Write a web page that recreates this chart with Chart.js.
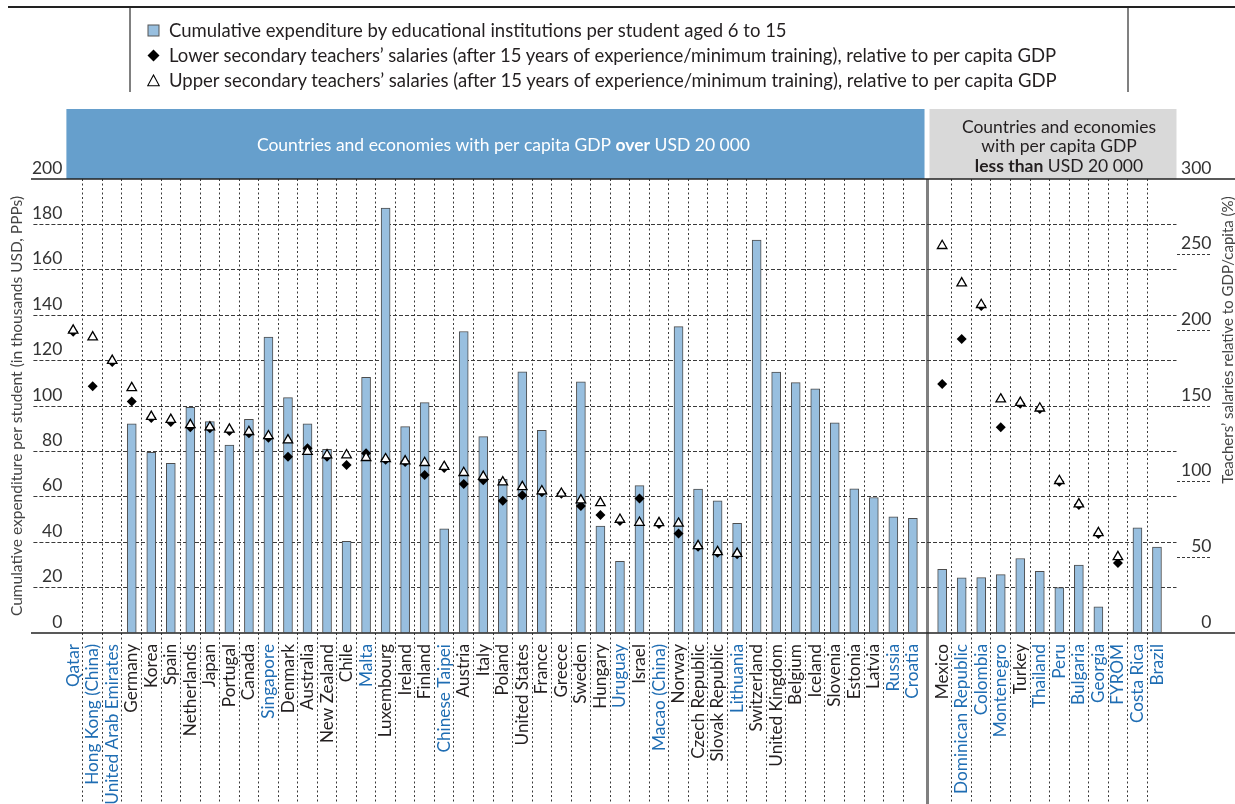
<!DOCTYPE html>
<html>
<head>
<meta charset="utf-8">
<script src="https://cdn.jsdelivr.net/npm/chart.js@4.4.1/dist/chart.umd.min.js"></script>
<style>
  body { margin: 0; background: #fff; font-family: Lato, sans-serif; }
  #wrap { position: relative; width: 1235px; height: 804px; overflow: hidden; }
  #chart { position: absolute; left: 0; top: 0; }
  #topline { position: absolute; left: 8px; right: 0; top: 6px; border-top: 2px solid #222; }
  #legend { position: absolute; left: 129px; top: 8px; width: 996px; height: 84px;
            border-left: 2px solid #808080; border-right: 2px solid #808080; }
  .item { position: absolute; left: 38px; height: 22px; line-height: 22px; font-size: 18.5px;
          color: #231f20; white-space: nowrap; }
  .item svg { position: absolute; left: -22px; top: 5px; }
</style>
</head>
<body>
<div id="wrap">
  <canvas id="chart" width="1235" height="804"></canvas>
  <div id="topline"></div>
  <div id="legend">
    <div class="item" style="top:11px">
      <svg width="13" height="13"><rect x="1" y="1" width="11" height="11" fill="#98bfdf" stroke="#555" stroke-width="1"/></svg>
      Cumulative expenditure by educational institutions per student aged 6 to 15
    </div>
    <div class="item" style="top:36px">
      <svg width="13" height="13"><path d="M6.5 0.5 L12.5 6.5 L6.5 12.5 L0.5 6.5 Z" fill="#000"/></svg>
      Lower secondary teachers’ salaries (after 15 years of experience/minimum training), relative to per capita GDP
    </div>
    <div class="item" style="top:61px">
      <svg width="13" height="13"><path d="M6.5 1 L12.3 11.8 L0.7 11.8 Z" fill="#fff" stroke="#000" stroke-width="1.1"/></svg>
      Upper secondary teachers’ salaries (after 15 years of experience/minimum training), relative to per capita GDP
    </div>
  </div>
</div>
<script>
const countries = [
  "Qatar", "Hong Kong (China)", "United Arab Emirates", "Germany", "Korea", "Spain",
  "Netherlands", "Japan", "Portugal", "Canada", "Singapore", "Denmark", "Australia",
  "New Zealand", "Chile", "Malta", "Luxembourg", "Ireland", "Finland", "Chinese Taipei",
  "Austria", "Italy", "Poland", "United States", "France", "Greece", "Sweden", "Hungary",
  "Uruguay", "Israel", "Macao (China)", "Norway", "Czech Republic", "Slovak Republic",
  "Lithuania", "Switzerland", "United Kingdom", "Belgium", "Iceland", "Slovenia", "Estonia",
  "Latvia", "Russia", "Croatia",
  "Mexico", "Dominican Republic", "Colombia", "Montenegro", "Turkey", "Thailand", "Peru",
  "Bulgaria", "Georgia", "FYROM", "Costa Rica", "Brazil",
];

// countries with per capita GDP over USD 20 000 come first
const richCount = 44;

const partners = [
  "Qatar", "Hong Kong (China)", "United Arab Emirates", "Singapore", "Malta", "Chinese Taipei",
  "Uruguay", "Macao (China)", "Lithuania", "Russia", "Croatia", "Dominican Republic", "Colombia",
  "Montenegro", "Thailand", "Peru", "Bulgaria", "Georgia", "FYROM", "Costa Rica", "Brazil",
];

// thousands USD, PPPs
const expenditure = [
  null, null, null, 92.1, 79.6, 74.7, 99.4, 93.1, 82.8, 94.1, 130.4, 103.7, 92.1,
  80.9, 40.4, 112.6, 187.2, 90.9, 101.5, 45.9, 132.8, 86.5, 67.7, 115.1, 89.3, null, 110.7, 47.1,
  31.6, 64.9, null, 135.0, 63.4, 58.2, 48.3, 173.1, 114.9, 110.3, 107.6, 92.6, 63.5,
  59.7, 51.2, 50.5,
  28.0, 24.3, 24.4, 25.7, 32.8, 27.2, 20.0, 29.9, 11.5, null, 46.3, 37.9,
];

// % of GDP per capita
const lowerSecondary = [
  199, 163, 179, 153, 142, 139.5, 136, 135.3, 133.5, 132, 129, 116.5, 122,
  116.5, 111, 118.7, 114.5, 113, 104.4, 109, 98.4, 101, 87.4, 91.1, 93, 92, 83.9, 77.9,
  74, 88.9, 72, 65.8, 57, 53, 52, null, null, null, null, null, null,
  null, null, null,
  164.6, 194.2, 216, 135.9, 151.5, 148, 100, 84.5, 65.5, 46.3, null, null,
];

const upperSecondary = [
  200, 195.5, 180, 162, 143, 141, 137.5, 136, 134.6, 133, 130.2, 127.5, 119.8,
  117.6, 117.6, 115.8, 115, 113.6, 112.5, 109.9, 105.9, 103.3, 99.7, 96.6, 93.8, 92.2, 87.8, 86,
  75, 73, 72.8, 72.4, 57.6, 53.6, 52.5, null, null, null, null, null, null,
  null, null, null,
  255.9, 231.2, 216.9, 154.5, 152.2, 148.5, 100.6, 85.2, 66.2, 50.3, null, null,
];

const leftTicks = [0, 20, 40, 60, 80, 100, 120, 140, 160, 180, 200];
const rightTicks = [0, 50, 100, 150, 200, 250, 300];

const blue = "#1f6db3";
const ink = "#231f20";
const gridInk = "#3a3a3a";

// half a slot of space between the two country groups
const xPos = countries.map((_, i) => (i < richCount ? i : i + 0.5));
const toPoints = (values) => values.map((v, i) => ({ x: xPos[i], y: v }));

const isSeparator = (ctx) => ctx.type === "tick" && ctx.index === richCount;
const vLineColor = (ctx) => {
  if (ctx.type !== "tick" || ctx.index === 0) return "transparent";
  return isSeparator(ctx) ? "#808080" : gridInk;
};
const vLineWidth = (ctx) => (isSeparator(ctx) ? 3 : 1);
const vLineDash = (ctx) => (isSeparator(ctx) ? [] : [2, 2.5]);
const hLineColor = (ctx) =>
  ctx.tick && (ctx.tick.value === 0 || ctx.tick.value === 200) ? "transparent" : gridInk;
const rTickColor = (ctx) =>
  ctx.tick && (ctx.tick.value === 0 || ctx.tick.value === 300) ? "transparent" : gridInk;

function drawMixed(ctx, parts, cx, y, size) {
  let total = 0;
  for (const p of parts) {
    ctx.font = `${p.bold ? 700 : 400} ${size}px Lato`;
    p.w = ctx.measureText(p.text).width;
    total += p.w;
  }
  let x = cx - total / 2;
  ctx.textAlign = "left";
  for (const p of parts) {
    ctx.font = `${p.bold ? 700 : 400} ${size}px Lato`;
    ctx.fillText(p.text, x, y);
    x += p.w;
  }
}

const framePlugin = {
  id: "frame",
  beforeDraw(chart) {
    const { ctx, chartArea, scales } = chart;
    const sep = scales.x.getPixelForValue(richCount - 0.25);
    const top = 109;
    const h = chartArea.top - top;
    ctx.save();
    ctx.fillStyle = "#669fcc";
    ctx.fillRect(chartArea.left + 3, top, sep - 3 - (chartArea.left + 3), h);
    ctx.fillStyle = "#d9d9d9";
    ctx.fillRect(sep + 2, top, chartArea.right - sep - 2, h);

    ctx.textBaseline = "middle";
    ctx.fillStyle = "#fff";
    drawMixed(ctx, [
      { text: "Countries and economies with per capita GDP " },
      { text: "over", bold: true },
      { text: " USD 20 000" },
    ], (chartArea.left + sep) / 2 + 8, top + h / 2 + 1, 17.5);

    ctx.fillStyle = ink;
    const gx = (sep + chartArea.right) / 2 + 7;
    drawMixed(ctx, [{ text: "Countries and economies" }], gx, 127, 17.5);
    drawMixed(ctx, [{ text: "with per capita GDP" }], gx, 146, 17.5);
    drawMixed(ctx, [{ text: "less than", bold: true }, { text: " USD 20 000" }], gx, 166, 17.5);
    ctx.restore();
  },
  afterDraw(chart) {
    const { ctx, chartArea } = chart;
    ctx.save();
    ctx.strokeStyle = "#222";
    ctx.lineWidth = 1.5;
    for (const y of [chartArea.top, chartArea.bottom]) {
      ctx.beginPath();
      ctx.moveTo(31, y);
      ctx.lineTo(chart.width, y);
      ctx.stroke();
    }
    ctx.translate(1228, 340);
    ctx.rotate(-Math.PI / 2);
    ctx.fillStyle = "#444";
    ctx.font = "400 15px Lato";
    ctx.textAlign = "center";
    ctx.textBaseline = "middle";
    ctx.fillText("Teachers’ salaries relative to GDP/capita (%)", 0, 0);
    ctx.restore();
  },
};

Chart.defaults.font.family = "Lato";

new Chart(document.getElementById("chart"), {
  type: "bar",
  data: {
    datasets: [
      {
        type: "line",
        label: "Upper secondary teachers’ salaries",
        data: toPoints(upperSecondary),
        yAxisID: "y2",
        showLine: false,
        pointStyle: "triangle",
        pointRadius: 5.5,
        pointBackgroundColor: "#fff",
        pointBorderColor: "#000",
        pointBorderWidth: 1.3,
        order: 0,
      },
      {
        type: "line",
        label: "Lower secondary teachers’ salaries",
        data: toPoints(lowerSecondary),
        yAxisID: "y2",
        showLine: false,
        pointStyle: "rectRot",
        pointRadius: 5,
        pointBackgroundColor: "#000",
        pointBorderColor: "#000",
        pointBorderWidth: 0,
        order: 1,
      },
      {
        label: "Cumulative expenditure",
        data: toPoints(expenditure),
        yAxisID: "y",
        backgroundColor: "#98bfdf",
        borderColor: "#4d4d4d",
        borderWidth: 1,
        barThickness: 9,
        order: 2,
      },
    ],
  },
  options: {
    responsive: false,
    animation: false,
    layout: { padding: { top: 179, right: 23.5, left: 0, bottom: 0 } },
    plugins: { legend: { display: false }, tooltip: { enabled: false } },
    scales: {
      x: {
        type: "linear",
        min: -0.5,
        max: countries.length + 0.5,
        offset: false,
        afterBuildTicks: (scale) => {
          scale.ticks = xPos.map((v) => ({ value: v }));
        },
        afterFit: (scale) => {
          scale.height = 171;
        },
        border: { display: false, dash: vLineDash },
        grid: {
          offset: true,
          color: vLineColor,
          lineWidth: vLineWidth,
          tickLength: 171,
          tickColor: vLineColor,
          tickWidth: vLineWidth,
          tickBorderDash: vLineDash,
        },
        ticks: {
          autoSkip: false,
          minRotation: 90,
          maxRotation: 90,
          padding: -160,
          font: { size: 17.2 },
          color: (ctx) => (partners.includes(countries[ctx.index]) ? blue : ink),
          callback: (value, index) => countries[index],
        },
      },
      y: {
        position: "left",
        min: 0,
        max: 200,
        afterBuildTicks: (scale) => {
          scale.ticks = leftTicks.map((v) => ({ value: v }));
        },
        afterFit: (scale) => {
          scale.width = 63.4;
        },
        border: { display: false, dash: [4, 2] },
        grid: {
          color: hLineColor,
          tickColor: hLineColor,
          tickBorderDash: [4, 2],
          tickLength: 30,
        },
        ticks: {
          padding: -29,
          labelOffset: -11,
          font: { size: 17.5 },
          color: "#333",
        },
        title: {
          display: true,
          text: "Cumulative expenditure per student (in thousands USD, PPPs)",
          font: { size: 15.5 },
          color: "#444",
          padding: { top: 8, bottom: 0 },
        },
      },
      y2: {
        position: "right",
        min: 0,
        max: 300,
        afterBuildTicks: (scale) => {
          scale.ticks = rightTicks.map((v) => ({ value: v }));
        },
        afterFit: (scale) => {
          scale.width = 35;
        },
        border: { display: false },
        grid: {
          drawOnChartArea: false,
          tickLength: 35,
          tickColor: rTickColor,
          tickBorderDash: [3, 2],
        },
        ticks: {
          padding: -31,
          labelOffset: -11,
          crossAlign: "far",
          font: { size: 17.5 },
          color: "#333",
        },
      },
    },
  },
  plugins: [framePlugin],
});
</script>
</body>
</html>
